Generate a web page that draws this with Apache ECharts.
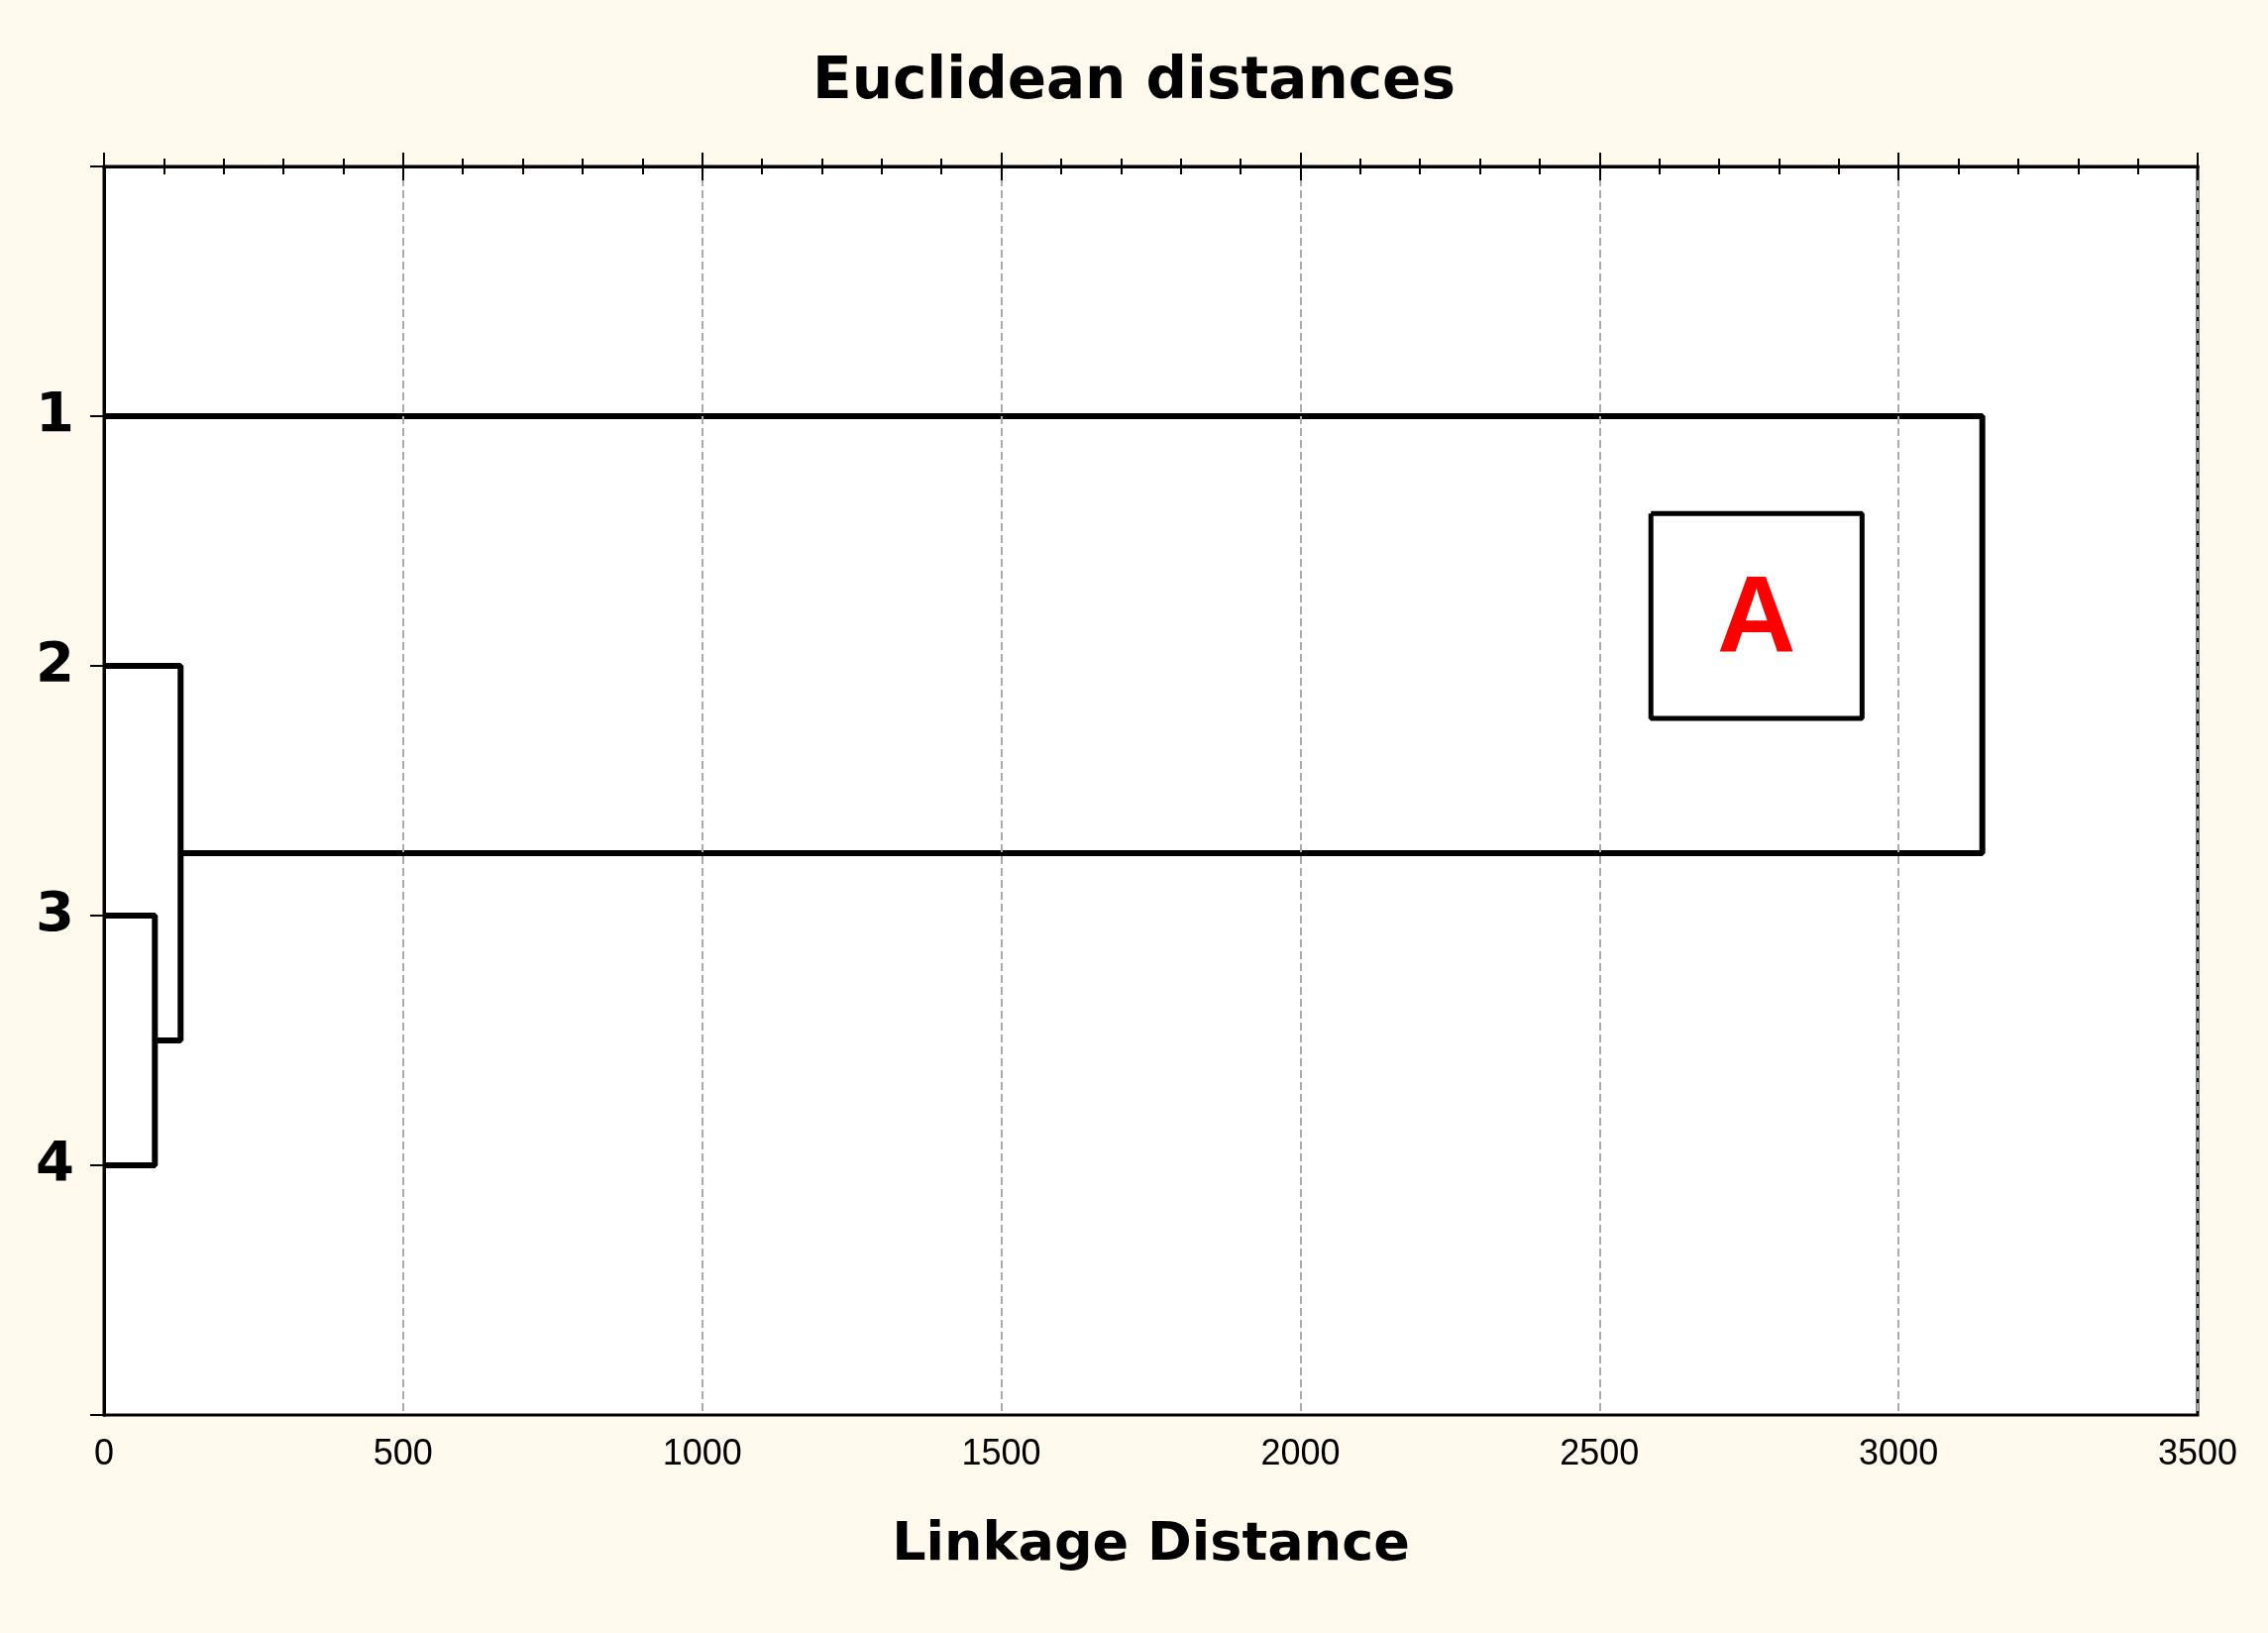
<!DOCTYPE html>
<html>
<head>
<meta charset="utf-8">
<script src="https://cdn.jsdelivr.net/npm/echarts@6/dist/echarts.min.js"></script>
<style>html,body{margin:0;padding:0;background:#fff9ee;}#chart{width:2289px;height:1648px;}</style>
</head>
<body>
<div id="chart"></div>
<script>
// leaves and linkage heights
var leafLabels = ['1', '2', '3', '4'];
var linkPaths = [
	[[0, 3], [85, 3], [85, 4], [0, 4]],
	[[0, 2], [128, 2], [128, 3.5], [85, 3.5]],
	[[0, 1], [3140, 1], [3140, 2.75], [128, 2.75]]
];
var boxA = [[2586, 1.39], [2939, 1.39], [2939, 2.21], [2586, 2.21], [2586, 1.39]];
var boxLabel = 'A';

var chart = echarts.init(document.getElementById('chart'));
var series = [];
linkPaths.forEach(function (p) {
	series.push({type: 'line', data: p, symbol: 'none', lineStyle: {color: '#000', width: 6}, animation: false});
});
series.push({type: 'line', data: boxA, symbol: 'none', lineStyle: {color: '#000', width: 5}, animation: false,
	markPoint: {symbol: 'rect', symbolSize: 1, itemStyle: {color: 'transparent'},
		data: [{coord: [(boxA[0][0] + boxA[1][0]) / 2, (boxA[0][1] + boxA[2][1]) / 2 + 0.02]}],
		label: {show: true, formatter: boxLabel, color: '#ff0000', fontSize: 110, fontWeight: 'bold', fontFamily: 'Liberation Sans'}}
});

var tickStyle = {inside: true, length: 14, lineStyle: {color: '#000', width: 2}};
var minorStyle = {show: true, splitNumber: 5, length: 8, lineStyle: {color: '#000', width: 2}};
chart.setOption({
	backgroundColor: '#fff9ee',
	title: {text: 'Euclidean distances', left: 'center', top: 50,
		textStyle: {fontSize: 58, fontWeight: 900, fontFamily: 'DejaVu Sans', color: '#000'}},
	grid: {left: 105, right: 71, top: 168, bottom: 220, show: true, backgroundColor: '#fff', borderColor: '#000', borderWidth: 3, z: 0},
	xAxis: [{
		type: 'value', min: 0, max: 3500, interval: 500, position: 'bottom', z: 5,
		name: 'Linkage Distance', nameLocation: 'middle', nameGap: 105,
		nameTextStyle: {fontSize: 54, fontWeight: 900, fontFamily: 'DejaVu Sans', color: '#000'},
		axisLine: {lineStyle: {color: '#000', width: 3}},
		axisTick: tickStyle, minorTick: minorStyle,
		axisLabel: {fontSize: 36, color: '#000', margin: 22, fontFamily: 'Liberation Sans',
			formatter: function (v) { return String(v); }},
		splitLine: {show: true, lineStyle: {color: '#aaa', type: 'dashed', width: 2}}
	}, {
		type: 'value', min: 0, max: 3500, interval: 500, position: 'top', z: 5,
		axisLine: {lineStyle: {color: '#000', width: 3}},
		axisTick: tickStyle, minorTick: minorStyle,
		axisLabel: {show: false}, splitLine: {show: false}
	}],
	yAxis: [{
		type: 'value', min: 0, max: 5, interval: 1, inverse: true, position: 'left', z: 5,
		axisLine: {show: true, lineStyle: {color: '#000', width: 3}},
		axisTick: {show: false}, splitLine: {show: false},
		axisLabel: {fontSize: 56, fontWeight: 900, color: '#000', margin: 30, fontFamily: 'DejaVu Sans',
			formatter: function (v) { return leafLabels[v - 1] || ''; }}
	}, {
		type: 'value', min: 0, max: 5, interval: 1, inverse: true, position: 'right', z: 5,
		axisLine: {show: true, lineStyle: {color: '#000', width: 3}},
		axisTick: {inside: true, length: 14, lineStyle: {color: '#000', width: 2}},
		axisLabel: {show: false}, splitLine: {show: false}
	}],
	series: series
});
</script>
</body>
</html>
